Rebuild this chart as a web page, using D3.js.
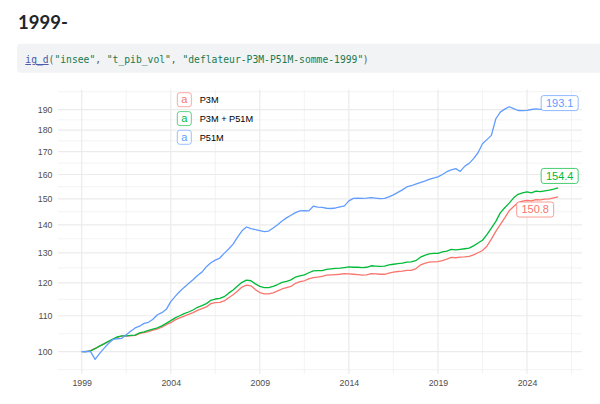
<!DOCTYPE html>
<html>
<head>
<meta charset="utf-8">
<script src="https://cdn.jsdelivr.net/npm/d3@7"></script>
<style>
  html, body { margin: 0; padding: 0; background: #fff; }
  svg { display: block; }
</style>
</head>
<body>
<svg id="svg" width="600" height="404"></svg>
<script>
// séries trimestrielles, 1999T1 -> 2025T4
var startYear = 1999;
var seriesNames = ['P3M', 'P3M + P51M', 'P51M'];
var seriesColors = ['#F8766D', '#00BA38', '#619CFF'];

var p3m = [
  100.0, 100.0, 100.3, 100.9,  101.5, 102.1, 102.7, 103.3,  103.9, 104.2, 104.2, 104.3,
  104.4, 104.9, 105.2, 105.5,  105.9, 106.2, 106.7, 107.4,  108.0, 108.8, 109.4, 109.9,
  110.4, 110.9, 111.6, 112.1,  112.6, 113.6, 113.9, 114.0,  114.4, 115.4, 116.3, 117.5,
  118.7, 119.3, 119.1, 117.9,  117.0, 116.6, 116.6, 116.9,  117.5, 118.1, 118.5, 118.9,
  119.9, 120.4, 120.7, 121.3,  121.7, 121.9, 122.1, 122.5,  122.6, 122.7, 122.8, 123.0,
  122.9, 122.8, 122.7, 122.5,  122.6, 123.0, 122.9, 122.8,  122.8, 123.2, 123.5, 123.7,
  123.8, 124.1, 124.1, 124.6,  125.8, 126.4, 126.8, 126.9,  127.0, 127.3, 127.8, 128.4,
  128.3, 128.5, 128.6, 128.8,  129.3, 130.0, 130.8, 132.3,  134.8, 137.6, 140.1, 142.6,
  145.3, 147.0, 148.5, 149.1,  149.4, 149.2, 149.7, 149.6,  149.9, 150.0, 150.4, 150.8
];
var p3mP51m = [
  100.0, 100.0, 100.2, 100.8,  101.5, 102.1, 102.8, 103.4,  104.0, 104.3, 104.3, 104.4,
  104.5, 105.1, 105.4, 105.8,  106.2, 106.5, 107.1, 107.8,  108.6, 109.4, 110.0, 110.6,
  111.1, 111.7, 112.5, 113.0,  113.6, 114.6, 115.0, 115.2,  115.7, 116.8, 117.8, 119.0,
  120.2, 120.9, 120.7, 119.7,  118.9, 118.5, 118.5, 118.9,  119.5, 120.2, 120.5, 121.0,
  121.9, 122.3, 122.6, 123.3,  123.9, 124.0, 124.0, 124.4,  124.6, 124.7, 124.8, 125.0,
  125.2, 125.1, 125.1, 125.0,  125.1, 125.6, 125.5, 125.4,  125.5, 125.9, 126.1, 126.3,
  126.5, 126.8, 126.9, 127.3,  128.4, 129.1, 129.6, 129.8,  129.8, 130.3, 130.6, 131.2,
  131.0, 131.2, 131.4, 131.6,  132.4, 133.4, 134.4, 136.4,  138.8, 141.3, 144.5, 146.5,
  148.3, 150.4, 151.8, 152.4,  152.8, 152.4, 153.1, 152.9,  153.2, 153.5, 153.9, 154.4
];
var p51m = [
  100.0, 100.1, 100.0,  98.0,   99.5, 100.9, 102.2, 103.3,  103.5, 103.6, 104.6, 105.6,
  106.5, 107.0, 107.8, 108.1,  109.0, 110.3, 110.9, 111.9,  114.2, 115.8, 117.3, 118.6,
  119.8, 121.0, 122.4, 123.5,  125.3, 126.6, 127.5, 128.2,  129.8, 131.3, 133.0, 135.5,
  137.8, 139.2, 138.6, 138.2,  137.9, 137.5, 137.7, 138.8,  140.0, 141.4, 142.6, 143.6,
  144.6, 145.3, 145.4, 145.3,  147.1, 146.7, 146.6, 146.3,  146.2, 146.4, 146.8, 147.2,
  149.2, 150.2, 150.3, 150.2,  150.3, 150.5, 150.3, 150.1,  150.2, 150.8, 151.6, 152.6,
  153.6, 154.8, 155.3, 156.0,  156.6, 157.2, 157.9, 158.5,  159.0, 160.0, 161.2, 162.0,
  162.5, 161.3, 163.5, 164.8,  166.9, 169.5, 173.6, 175.5,  177.5, 185.5, 188.8, 190.3,
  191.5, 190.5, 189.6, 189.5,  189.7, 190.1, 190.4, 190.2,  190.5, 191.5, 192.4, 193.1
];

var xTickValues = [1999, 2004, 2009, 2014, 2019, 2024];
var yTickValues = [100, 110, 120, 130, 140, 150, 160, 170, 180, 190];

var svg = d3.select('#svg');

var panel = { left: 58, right: 582, top: 89.6, bottom: 374 };

var x = d3.scaleLinear().domain([1999, 2024]).range([81.7, 527]);
var y = d3.scaleLog().domain([100, 190]).range([351.7, 109.7]);

drawHeader();
drawGrid();
drawAxes();
drawLines();
drawEndLabels();
drawLegend();

// ====================================================================================
// === En-tête (titre + bloc de code)

function drawHeader () {
  svg.append('text')
    .attr('x', 18).attr('y', 28.5)
    .attr('font-family', 'Lato, "Open Sans", sans-serif')
    .attr('font-weight', 700)
    .attr('font-size', 18.5)
    .attr('fill', '#212529')
    .text('1999-');

  svg.append('rect')
    .attr('x', 17).attr('y', 43.7)
    .attr('width', 600).attr('height', 29)
    .attr('rx', 4)
    .attr('fill', '#f1f3f5');

  var parts = [
    ['ig_d', '#4758AB', true],
    ['(', '#5E5E5E'],
    ['"insee"', '#20794D'],
    [',', '#5E5E5E'],
    ['"t_pib_vol"', '#20794D', false, 1],
    [',', '#5E5E5E'],
    ['"deflateur-P3M-P51M-somme-1999"', '#20794D', false, 1],
    [')', '#5E5E5E']
  ];

  // chaque morceau placé à sa colonne (police à chasse fixe, 59 colonnes)
  var charW = 5.82, col = 0;
  parts.forEach(function (p) {
    col += p[3] || 0;
    svg.append('text')
      .attr('x', 25.3 + col * charW).attr('y', 63)
      .attr('font-family', '"DejaVu Sans Mono", "Liberation Mono", monospace')
      .attr('font-size', 9.7)
      .attr('fill', p[1])
      .attr('text-decoration', p[2] ? 'underline' : null)
      .text(p[0]);
    col += p[0].length;
  });
}

// ====================================================================================
// === Grille

function drawGrid () {
  var g = svg.append('g').attr('class', 'grid');

  // mineures : milieux (en log) entre graduations, + une de chaque côté
  var ly = yTickValues.map(Math.log);
  var step = ly[1] - ly[0];
  var ext = [ly[0] - step].concat(ly, [ly[ly.length - 1] + step]);
  var yMinor = [];
  for (var i = 0; i < ext.length - 1; i++) {
    var v = Math.exp((ext[i] + ext[i + 1]) / 2);
    if (y(v) >= panel.top && y(v) <= panel.bottom) yMinor.push(v);
  }
  var xMinor = [];
  for (var k = 0; k <= xTickValues.length; k++) {
    var xv = 1996.5 + 5 * k;
    if (x(xv) >= panel.left && x(xv) <= panel.right) xMinor.push(xv);
  }

  g.selectAll('.ymin').data(yMinor).enter().append('line')
    .attr('x1', panel.left).attr('x2', panel.right)
    .attr('y1', function (d) { return y(d); })
    .attr('y2', function (d) { return y(d); })
    .attr('stroke', '#ebebeb').attr('stroke-width', 0.6);

  g.selectAll('.xmin').data(xMinor).enter().append('line')
    .attr('y1', panel.top).attr('y2', panel.bottom)
    .attr('x1', function (d) { return x(d); })
    .attr('x2', function (d) { return x(d); })
    .attr('stroke', '#ebebeb').attr('stroke-width', 0.6);

  g.selectAll('.ymaj').data(yTickValues).enter().append('line')
    .attr('x1', panel.left).attr('x2', panel.right)
    .attr('y1', function (d) { return y(d); })
    .attr('y2', function (d) { return y(d); })
    .attr('stroke', '#ebebeb').attr('stroke-width', 1.2);

  g.selectAll('.xmaj').data(xTickValues).enter().append('line')
    .attr('y1', panel.top).attr('y2', panel.bottom)
    .attr('x1', function (d) { return x(d); })
    .attr('x2', function (d) { return x(d); })
    .attr('stroke', '#ebebeb').attr('stroke-width', 1.2);
}

// ====================================================================================
// === Axes

function drawAxes () {
  var xAxis = d3.axisBottom(x)
    .tickValues(xTickValues)
    .tickFormat(d3.format('d'))
    .tickSize(0).tickPadding(0);
  var yAxis = d3.axisLeft(y)
    .tickValues(yTickValues)
    .tickFormat(d3.format('d'))
    .tickSize(0).tickPadding(0);

  var gx = svg.append('g')
    .attr('transform', 'translate(0,' + 385.5 + ')')
    .call(xAxis);
  var gy = svg.append('g')
    .attr('transform', 'translate(52.5,0)')
    .call(yAxis);

  [gx, gy].forEach(function (g) {
    g.select('.domain').remove();
    g.selectAll('text')
      .attr('font-family', '"Liberation Sans", Arial, sans-serif')
      .attr('font-size', 8.8)
      .attr('fill', '#4D4D4D');
  });
  gx.selectAll('text').attr('dy', 0);
}

// ====================================================================================
// === Courbes

function getSeries () {
  return [p3m, p3mP51m, p51m].map(function (vals, s) {
    return {
      name: seriesNames[s],
      color: seriesColors[s],
      points: vals.map(function (v, i) { return { t: startYear + i / 4, v: v }; })
    };
  });
}

function drawLines () {
  var line = d3.line()
    .x(function (d) { return x(d.t); })
    .y(function (d) { return y(d.v); });

  svg.append('g').selectAll('path')
    .data(getSeries())
    .enter().append('path')
      .attr('d', function (d) { return line(d.points); })
      .attr('fill', 'none')
      .attr('stroke', function (d) { return d.color; })
      .attr('stroke-width', 1.3)
      .attr('stroke-linejoin', 'round');
}

// étiquettes de fin de série (décalages façon "repel")
function drawEndLabels () {
  var offsets = [[-23, 12.7], [1.5, -12], [1.5, -0.5]];
  var series = getSeries();
  var g = svg.append('g');

  series.forEach(function (s, i) {
    var last = s.points[s.points.length - 1];
    var cx = x(last.t) + offsets[i][0],
        cy = y(last.v) + offsets[i][1];
    var lab = g.append('g').attr('transform', 'translate(' + cx + ',' + cy + ')');
    lab.append('rect')
      .attr('x', -18.5).attr('y', -7.5)
      .attr('width', 37).attr('height', 15)
      .attr('rx', 2.5)
      .attr('fill', '#fff')
      .attr('stroke', s.color)
      .attr('stroke-opacity', 0.8)
      .attr('stroke-width', 0.9);
    lab.append('text')
      .attr('text-anchor', 'middle')
      .attr('dy', '0.36em')
      .attr('font-family', '"Liberation Sans", Arial, sans-serif')
      .attr('font-size', 11)
      .attr('fill', s.color)
      .text(d3.format('.1f')(last.v));
  });
}

// ====================================================================================
// === Légende

function drawLegend () {
  var rowY = [99.7, 118.6, 137.3];
  var g = svg.append('g').selectAll('g')
    .data(seriesNames)
    .enter().append('g')
      .attr('transform', function (d, i) { return 'translate(184.3,' + rowY[i] + ')'; });

  g.append('rect')
    .attr('x', -7).attr('y', -7)
    .attr('width', 14).attr('height', 14)
    .attr('rx', 2.5)
    .attr('fill', '#fff')
    .attr('stroke', function (d, i) { return seriesColors[i]; })
    .attr('stroke-opacity', 0.7)
    .attr('stroke-width', 0.9);

  g.append('text')
    .attr('text-anchor', 'middle')
    .attr('dy', '0.3em')
    .attr('font-family', '"Liberation Sans", Arial, sans-serif')
    .attr('font-size', 11)
    .attr('fill', function (d, i) { return seriesColors[i]; })
    .text('a');

  g.append('text')
    .attr('x', 15.4)
    .attr('dy', '0.35em')
    .attr('font-family', '"Liberation Sans", Arial, sans-serif')
    .attr('font-size', 9.2)
    .attr('fill', '#000')
    .text(function (d) { return d; });
}
</script>
</body>
</html>
